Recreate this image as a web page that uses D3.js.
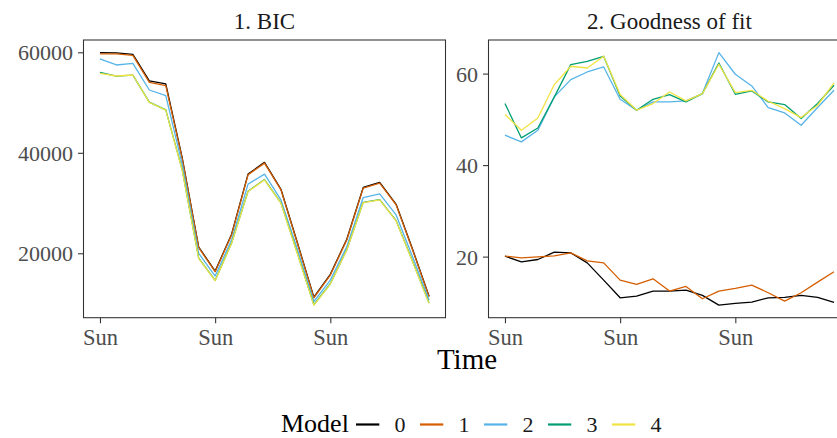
<!DOCTYPE html>
<html>
<head>
<meta charset="utf-8">
<script src="https://cdn.jsdelivr.net/npm/d3@7"></script>
<style>
  body { margin: 0; background: #fff; }
  svg { display: block; font-family: "Liberation Serif", "DejaVu Serif", serif; }
</style>
</head>
<body>
<div id="chart"></div>
<script>
// days along the x axis (daily data, three weeks)
var dayNames = ["Sun","Mon","Tue","Wed","Thu","Fri","Sat",
                "Sun","Mon","Tue","Wed","Thu","Fri","Sat",
                "Sun","Mon","Tue","Wed","Thu","Fri","Sat"];
var models = ["0", "1", "2", "3", "4"];
var modelColors = ["#000000", "#D55E00", "#56B4E9", "#009E73", "#F0E442"];
var panelTitles = ["1. BIC", "2. Goodness of fit"];

// panel 1: BIC, one array per model
var bic0 = [59940, 59880, 59600, 54300, 53700, 39000, 21250, 16450, 23800, 35750, 38100, 32750, 22100, 11250, 15800, 22800, 33100, 34100, 29750, 20800, 11450];
var bic1 = [59700, 59680, 59400, 54020, 53360, 38800, 21120, 16330, 23650, 35620, 37950, 32620, 21950, 11100, 15670, 22650, 32960, 33960, 29630, 20660, 11340];
var bic2 = [58680, 57480, 57810, 52500, 51370, 37700, 20000, 15470, 22650, 33760, 35750, 30630, 20800, 10400, 14670, 21320, 31090, 31830, 27640, 19300, 10690];
var bic3 = [56000, 55250, 55450, 50080, 48550, 36600, 19050, 14600, 22050, 32350, 34680, 30030, 20000, 9760, 13930, 20720, 30150, 30690, 26500, 18400, 10090];
var bic4 = [55810, 55290, 55490, 50030, 48510, 36500, 19000, 14540, 21990, 32280, 34620, 29970, 19900, 9690, 13870, 20660, 30090, 30630, 26440, 18300, 10030];

// panel 2: goodness of fit
var fit0 = [20.1, 18.86, 19.37, 20.97, 20.83, 18.64, 14.87, 11.0, 11.38, 12.47, 12.47, 12.69, 11.53, 9.41, 9.78, 10.07, 11.0, 11.09, 11.53, 11.09, 9.99];
var fit1 = [20.1, 19.74, 19.96, 20.17, 20.83, 19.08, 18.64, 14.87, 13.93, 15.15, 12.47, 13.49, 10.79, 12.47, 13.05, 13.78, 12.1, 10.28, 12.1, 14.43, 16.68];
var fit2 = [46.53, 45.07, 47.62, 54.9, 58.69, 60.35, 61.44, 54.39, 52.0, 53.8, 53.8, 54.02, 55.63, 64.58, 59.85, 57.3, 52.58, 51.4, 48.71, 52.58, 56.35];
var fit3 = [53.45, 45.94, 48.12, 54.9, 61.96, 62.69, 63.78, 55.1, 51.99, 54.39, 55.41, 53.8, 55.63, 62.32, 55.48, 56.2, 53.8, 53.23, 50.17, 53.45, 57.45];
var fit4 = [51.05, 47.62, 50.31, 57.6, 61.6, 61.22, 63.78, 55.41, 52.0, 53.45, 55.98, 54.02, 55.63, 62.03, 55.85, 56.35, 53.95, 52.35, 50.39, 53.08, 57.95];

var bicTicks = [20000, 40000, 60000];
var fitTicks = [20, 40, 60];

var width = 837, height = 438;
var panelTop = 40, panelBottom = 317.7, panelW = 362;
var panelLefts = [83.5, 488.5];

var svg = d3.select("#chart").append("svg")
  .attr("width", width)
  .attr("height", height);

var panels = [
  { title: panelTitles[0], series: [bic0, bic1, bic2, bic3, bic4], ticks: bicTicks },
  { title: panelTitles[1], series: [fit0, fit1, fit2, fit3, fit4], ticks: fitTicks }
];

// expand like ggplot (5% each side)
function expand(ext) {
  var pad = (ext[1] - ext[0]) * 0.05;
  return [ext[0] - pad, ext[1] + pad];
}

panels.forEach(function(p, k) {
  var left = panelLefts[k];
  var x = d3.scaleLinear()
    .domain(expand([0, dayNames.length - 1]))
    .range([left, left + panelW]);
  var all = d3.merge(p.series);
  var y = d3.scaleLinear()
    .domain(expand(d3.extent(all)))
    .range([panelBottom, panelTop]);

  var g = svg.append("g");

  // lines
  var line = d3.line()
    .x(function(d, i) { return x(i); })
    .y(function(d) { return y(d); });
  p.series.forEach(function(s, m) {
    g.append("path")
      .datum(s)
      .attr("d", line)
      .attr("fill", "none")
      .attr("stroke", modelColors[m])
      .attr("stroke-width", 1.3)
      .attr("stroke-linejoin", "round");
  });

  // panel border
  g.append("rect")
    .attr("x", left)
    .attr("y", panelTop)
    .attr("width", panelW)
    .attr("height", panelBottom - panelTop)
    .attr("fill", "none")
    .attr("stroke", "#333333")
    .attr("stroke-width", 1.07);

  // y axis
  var yAxis = d3.axisLeft(y).tickValues(p.ticks).tickSize(5.5).tickPadding(5)
    .tickFormat(d3.format("d"));
  var ya = g.append("g").attr("transform", "translate(" + left + ",0)").call(yAxis);
  ya.select(".domain").remove();
  ya.selectAll("line").attr("stroke", "#333333").attr("stroke-width", 1.07);
  ya.selectAll("text")
    .attr("fill", "#4D4D4D")
    .attr("font-family", "Liberation Serif, serif")
    .attr("font-size", 22)
    .attr("dy", "0.34em");

  // x axis: a tick on each Sunday
  var sundays = dayNames.map(function(d, i) { return d === "Sun" ? i : -1; })
    .filter(function(i) { return i >= 0; });
  var xAxis = d3.axisBottom(x).tickValues(sundays).tickSize(5.5).tickPadding(4)
    .tickFormat(function(i) { return dayNames[i]; });
  var xa = g.append("g").attr("transform", "translate(0," + panelBottom + ")").call(xAxis);
  xa.select(".domain").remove();
  xa.selectAll("line").attr("stroke", "#333333").attr("stroke-width", 1.07);
  xa.selectAll("text")
    .attr("fill", "#4D4D4D")
    .attr("font-family", "Liberation Serif, serif")
    .attr("font-size", 22.5)
    .attr("dy", "0.78em");

  // facet title
  g.append("text")
    .attr("x", left + panelW / 2)
    .attr("y", 29)
    .attr("text-anchor", "middle")
    .attr("fill", "#1A1A1A")
    .attr("font-size", 23)
    .style("white-space", "pre")
    .text(p.title);
});

// x axis title
svg.append("text")
  .attr("x", 467)
  .attr("y", 369)
  .attr("text-anchor", "middle")
  .attr("fill", "#000")
  .attr("font-size", 29)
  .text("Time");

// legend
var legendY = 432;
var legend = svg.append("g");
legend.append("text")
  .attr("x", 281)
  .attr("y", legendY)
  .attr("fill", "#000")
  .attr("font-size", 26)
  .text("Model");

var keyX = d3.scaleLinear().domain([0, 1]).range([356, 420]);
models.forEach(function(m, i) {
  legend.append("line")
    .attr("x1", keyX(i)).attr("x2", keyX(i) + 23.3)
    .attr("y1", legendY - 7.5).attr("y2", legendY - 7.5)
    .attr("stroke", modelColors[i])
    .attr("stroke-width", 2.2);
  legend.append("text")
    .attr("x", keyX(i) + 38.5)
    .attr("y", legendY)
    .attr("fill", "#1A1A1A")
    .attr("font-size", 22)
    .text(m);
});
</script>
</body>
</html>
